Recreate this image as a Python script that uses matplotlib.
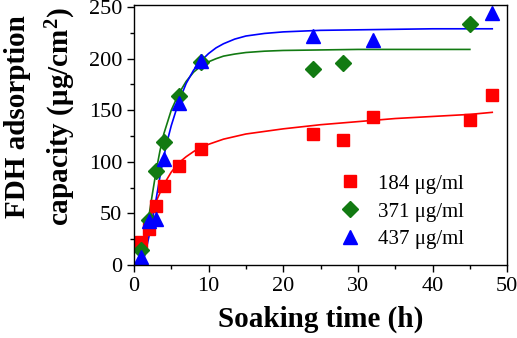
import matplotlib
matplotlib.use("Agg")
import matplotlib.pyplot as plt
from matplotlib.ticker import MultipleLocator

plt.rcParams['font.family'] = ['Liberation Serif', 'DejaVu Serif']
plt.rcParams['mathtext.fontset'] = 'custom'
plt.rcParams['mathtext.rm'] = 'Liberation Serif'
plt.rcParams['mathtext.bf'] = 'Liberation Serif:bold'

# Measured data
x_184 = [1, 2, 3, 4, 6, 9, 24, 28, 32, 45, 48]
y_184 = [22, 35, 57, 77, 96, 112, 127, 121, 143, 141, 165]
x_371 = [1, 2, 3, 4, 6, 9, 24, 28, 45]
y_371 = [15, 44, 91, 119, 164, 197, 190, 196, 234]
x_437 = [1, 2, 3, 4, 6, 9, 24, 32, 48]
y_437 = [8, 43, 45, 103, 157, 198, 222, 218, 244]

# Fitted curves
fx_184 = [1.7, 2.5, 3, 4, 5, 6, 7, 8, 9, 10, 12, 15, 20, 25, 30, 35, 40, 45, 48]
fy_184 = [34, 52, 62, 78, 90, 99, 105, 110, 114, 117, 122, 127, 132, 136, 139, 142, 144, 146, 148]
fx_371 = [1, 1.5, 2, 2.5, 3, 3.5, 4, 5, 6, 7, 8, 9, 10, 11, 12, 13.5, 15, 17.5, 20, 25, 30, 40, 45]
fy_371 = [12, 28, 47, 70, 92, 111, 127, 150, 166, 178, 187, 193, 197, 200, 202.5, 204.5, 206, 207.3, 208, 208.5, 209, 209, 209]
fx_437 = [1.3, 1.7, 2, 2.5, 3, 3.5, 4, 4.5, 5, 6, 7, 8, 9, 10, 11, 12, 13.5, 15, 17.5, 20, 25, 30, 40, 48]
fy_437 = [5, 17, 27, 45, 65, 86, 105, 121, 135, 158, 176, 189, 198, 205, 210.5, 214.5, 219, 222, 224.5, 226, 227.5, 228, 229, 229]

labels = ['184 μg/ml', '371 μg/ml', '437 μg/ml']
colors = ['#ff0000', '#127a12', '#0000ff']

fig = plt.figure(figsize=(5.17, 3.38), dpi=100)
ax = fig.add_axes([0.259, 0.216, 0.722, 0.769])

ax.plot(fx_184, fy_184, color=colors[0], lw=1.2)
ax.plot(fx_371, fy_371, color=colors[1], lw=1.2)
ax.plot(fx_437, fy_437, color=colors[2], lw=1.2)

ax.plot(x_184, y_184, 's', color=colors[0], ms=8.5, mec=colors[0], label=labels[0])
ax.plot(x_371, y_371, 'D', color=colors[1], ms=8, mec=colors[1], label=labels[1])
ax.plot(x_437, y_437, '^', color=colors[2], ms=10, mec=colors[2], label=labels[2])

ax.set_xlim(0, 50)
ax.set_ylim(0, 252)
ax.xaxis.set_major_locator(MultipleLocator(10))
ax.xaxis.set_minor_locator(MultipleLocator(5))
ax.yaxis.set_major_locator(MultipleLocator(50))
ax.yaxis.set_minor_locator(MultipleLocator(25))
ax.tick_params(which='both', direction='out', top=False, right=False, labelsize=16, width=1)
ax.tick_params(which='major', length=5)
ax.tick_params(which='minor', length=3)
for s in ax.spines.values():
    s.set_linewidth(1.0)

ax.set_xlabel('Soaking time (h)', fontsize=21, fontweight='bold', labelpad=7)
ax.set_ylabel('FDH adsorption\ncapacity (μg/cm$\\mathbf{^2}$)', fontsize=21, fontweight='bold',
              linespacing=1.5)
ax.yaxis.set_label_coords(-0.15, 0.57)

leg = ax.legend(loc='upper left', bbox_to_anchor=(0.546, 0.35), frameon=False, fontsize=15,
                handletextpad=0.75, labelspacing=0.4, handlelength=1.2, borderpad=0,
                borderaxespad=0)

fig.savefig('out.png', dpi=100)
